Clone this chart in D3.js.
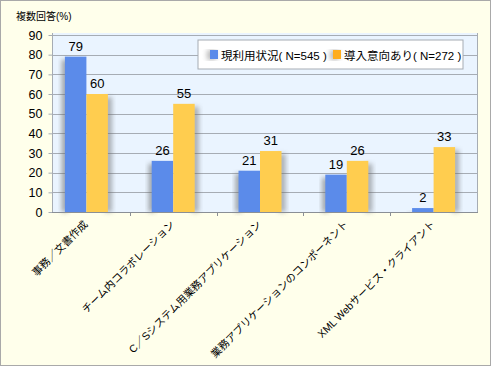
<!DOCTYPE html>
<html>
<head>
<meta charset="utf-8">
<script src="https://cdn.jsdelivr.net/npm/d3@7"></script>
<style>
  body { margin: 0; background: #fff; }
  svg { display: block; }
  text { font-family: "Liberation Sans", Arial, "Noto Sans CJK JP", sans-serif; }
</style>
</head>
<body>
<svg id="chart"></svg>
<script>
var categories = ["事務／文書作成", "チーム内コラボレーション", "C／Sシステム用業務アプリケーション", "業務アプリケーションのコンポーネント", "XML Webサービス・クライアント"];
var current = [79, 26, 21, 19, 2];
var intent = [60, 55, 31, 26, 33];
var seriesNames = ["現利用状況( N=545 )", "導入意向あり( N=272 )"];
var yTicks = [0, 10, 20, 30, 40, 50, 60, 70, 80, 90];

var svgWidth = 491, svgHeight = 366;
var plotLeft = 52, plotRight = 478, plotTop = 35, plotBottom = 212;
var colors = ["#5b8bea", "#ffcd4f"];

var svg = d3.select("#chart")
    .attr("width", svgWidth)
    .attr("height", svgHeight);

var defs = svg.append("defs");
var blur = defs.append("filter").attr("id", "shadow")
    .attr("x", "-50%").attr("y", "-10%").attr("width", "200%").attr("height", "120%");
blur.append("feGaussianBlur").attr("stdDeviation", 2.5);

// background
svg.append("rect")
    .attr("x", 0.5).attr("y", 0.5)
    .attr("width", svgWidth - 1).attr("height", svgHeight - 1)
    .attr("fill", "#ffffeb")
    .attr("stroke", "#a9a9a9");

svg.append("rect")
    .attr("x", plotLeft).attr("y", plotTop - 2)
    .attr("width", plotRight - plotLeft).attr("height", plotBottom - plotTop + 2)
    .attr("fill", "#eaf4ff");

var y = d3.scaleLinear().domain([0, 90]).range([plotBottom, plotTop]);
var x = d3.scaleBand().domain(categories).range([43, 477]);
var barW = 21.5;

// grid
svg.selectAll(".grid")
    .data(yTicks.slice(1))
    .enter()
    .append("line")
    .attr("x1", plotLeft).attr("x2", plotRight)
    .attr("y1", function(d) { return Math.round(y(d)) + 0.5; })
    .attr("y2", function(d) { return Math.round(y(d)) + 0.5; })
    .attr("stroke", "#a6acb4");

var yAxis = d3.axisLeft(y).tickValues(yTicks).tickSize(4).tickPadding(6);
var gy = svg.append("g")
    .attr("transform", "translate(" + (plotLeft + 0.5) + ",0)")
    .call(yAxis);
gy.select(".domain").attr("stroke", "#a6acb4").attr("d", "M0," + (plotTop - 2) + "V" + plotBottom);
gy.selectAll(".tick line").attr("stroke", "#a6acb4");
gy.selectAll(".tick text").attr("font-size", 12.5).attr("fill", "#000");

svg.append("line")
    .attr("x1", plotRight - 0.5).attr("x2", plotRight - 0.5)
    .attr("y1", plotTop - 2).attr("y2", plotBottom)
    .attr("stroke", "#a6acb4");

var groups = svg.selectAll(".grp")
    .data(categories)
    .enter()
    .append("g")
    .attr("transform", function(d) { return "translate(" + (x(d) + x.bandwidth() / 2) + ",0)"; });

// shadows
groups.append("rect")
    .attr("x", -barW - 3)
    .attr("y", function(d, i) { return y(current[i]) + 3; })
    .attr("width", 6)
    .attr("height", function(d, i) { return plotBottom - y(current[i]) - 3; })
    .attr("fill", "#666")
    .attr("opacity", 0.6)
    .attr("filter", "url(#shadow)");

groups.append("rect")
    .attr("x", barW - 3)
    .attr("y", function(d, i) { return y(intent[i]) + 3; })
    .attr("width", 7)
    .attr("height", function(d, i) { return plotBottom - y(intent[i]) - 3; })
    .attr("fill", "#666")
    .attr("opacity", 0.5)
    .attr("filter", "url(#shadow)");

groups.append("rect")
    .attr("x", -barW)
    .attr("y", function(d, i) { return y(current[i]); })
    .attr("width", barW)
    .attr("height", function(d, i) { return plotBottom - y(current[i]); })
    .attr("fill", colors[0]);

groups.append("rect")
    .attr("x", 0)
    .attr("y", function(d, i) { return y(intent[i]); })
    .attr("width", barW)
    .attr("height", function(d, i) { return plotBottom - y(intent[i]); })
    .attr("fill", colors[1]);

groups.append("text")
    .attr("x", -barW / 2)
    .attr("y", function(d, i) { return y(current[i]) - 6; })
    .attr("text-anchor", "middle")
    .attr("font-size", 13)
    .text(function(d, i) { return current[i]; });

groups.append("text")
    .attr("x", barW / 2)
    .attr("y", function(d, i) { return y(intent[i]) - 6; })
    .attr("text-anchor", "middle")
    .attr("font-size", 13)
    .text(function(d, i) { return intent[i]; });

// x axis
svg.append("line")
    .attr("x1", plotLeft).attr("x2", plotRight)
    .attr("y1", plotBottom + 0.5).attr("y2", plotBottom + 0.5)
    .attr("stroke", "#8a8f96");

svg.selectAll(".xtick")
    .data(categories.slice(1))
    .enter()
    .append("line")
    .attr("x1", function(d) { return Math.round(x(d)) + 0.5; })
    .attr("x2", function(d) { return Math.round(x(d)) + 0.5; })
    .attr("y1", plotBottom).attr("y2", plotBottom + 4)
    .attr("stroke", "#8a8f96");

svg.selectAll(".xlabel")
    .data(categories)
    .enter()
    .append("text")
    .attr("text-anchor", "end")
    .attr("font-size", 10.5)
    .attr("transform", function(d) {
        return "translate(" + (x(d) + x.bandwidth() / 2 + 2) + "," + (plotBottom + 13) + ") rotate(-45)";
    })
    .text(function(d) { return d; });

// title
svg.append("text")
    .attr("x", 16).attr("y", 20)
    .attr("font-size", 10)
    .text("複数回答(%)");

// legend
var legend = svg.append("g").attr("transform", "translate(198,40)");
legend.append("rect")
    .attr("width", 265).attr("height", 29)
    .attr("fill", "#fff")
    .attr("stroke", "#a6acb4");
var legendX = [12, 135];
seriesNames.forEach(function(name, i) {
    legend.append("rect")
        .attr("x", legendX[i] - 3).attr("y", 10)
        .attr("width", 9).attr("height", 10)
        .attr("fill", "#777").attr("opacity", 0.5)
        .attr("filter", "url(#shadow)");
    legend.append("rect")
        .attr("x", legendX[i]).attr("y", 10)
        .attr("width", 8).attr("height", 9)
        .attr("fill", i === 0 ? "#5b8bea" : "#ffad1f");
    legend.append("text")
        .attr("x", legendX[i] + 11).attr("y", 19.5)
        .attr("font-size", 11.5)
        .text(name);
});
</script>
</body>
</html>
